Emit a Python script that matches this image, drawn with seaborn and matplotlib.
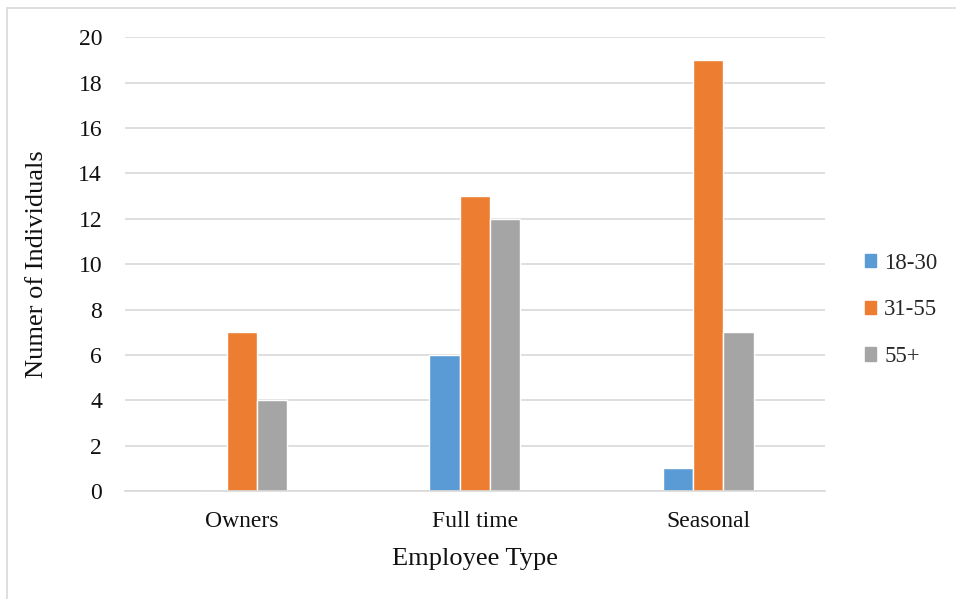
import matplotlib
matplotlib.use("Agg")
import matplotlib.pyplot as plt
import matplotlib.patches as mpatches
import seaborn as sns
import pandas as pd

categories = ["Owners", "Full time", "Seasonal"]
age_groups = ["18-30", "31-55", "55+"]
counts_18_30 = [0, 6, 1]
counts_31_55 = [7, 13, 19]
counts_55_plus = [4, 12, 7]
y_ticks = [0, 2, 4, 6, 8, 10, 12, 14, 16, 18, 20]
palette = ["#5B9BD5", "#ED7D31", "#A5A5A5"]

rows = []
for grp, vals in zip(age_groups, [counts_18_30, counts_31_55, counts_55_plus]):
    for cat, v in zip(categories, vals):
        rows.append({"Employee Type": cat, "Age": grp, "Count": v})
df = pd.DataFrame(rows)

sns.set_theme(style="white")
plt.rcParams["font.family"] = ["Liberation Serif", "DejaVu Serif"]

fig = plt.figure(figsize=(9.56, 5.99), dpi=100)
ax = fig.add_axes([0.1308, 0.180, 0.732, 0.758])

sns.barplot(data=df, x="Employee Type", y="Count", hue="Age", order=categories,
            hue_order=age_groups, palette=palette, width=0.39, saturation=1,
            ax=ax, legend=False)

ax.set_xlim(-0.5, 2.5)
ax.set_ylim(0, 20)
ax.set_yticks(y_ticks)
ax.yaxis.grid(True, color="#D9D9D9", linewidth=1.2)
ax.set_axisbelow(True)
for s in ["left", "right", "top"]:
    ax.spines[s].set_visible(False)
ax.spines["bottom"].set_color("#D9D9D9")
ax.spines["bottom"].set_linewidth(1.2)
ax.tick_params(axis="both", length=0, labelsize=17, colors="#111111")
ax.tick_params(axis="y", pad=16.5)
ax.tick_params(axis="x", pad=14)
ax.set_xlabel("Employee Type", fontsize=19, color="#111111", labelpad=12)
ax.set_ylabel("Numer of Individuals", fontsize=19, color="#111111", labelpad=22)

handles = [mpatches.Patch(color=c, label=g) for c, g in zip(palette, age_groups)]
fig.legend(handles=handles, loc="center left", bbox_to_anchor=(0.883, 0.4825),
           frameon=False, fontsize=16.5, handlelength=0.5, handleheight=0.5,
           handletextpad=0.35, labelspacing=1.12)

# outer chart frame
fig.patches.append(mpatches.Rectangle((7 / 956, -0.1), 1.2, 1 - 8 / 599 + 0.1,
                                      transform=fig.transFigure, fill=False,
                                      edgecolor="#D9D9D9", linewidth=1.2))

fig.savefig("out.png", dpi=100)
